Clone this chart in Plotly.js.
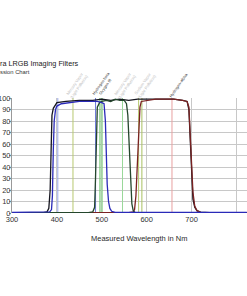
<!DOCTYPE html>
<html>
<head>
<meta charset="utf-8">
<script src="https://cdn.plot.ly/plotly-3.0.1.min.js"></script>
<style>html,body{margin:0;padding:0;background:#fff;overflow:hidden;}#chart{width:247px;height:296px;}</style>
</head>
<body>
<div id="chart"></div>
<script>
// Filter transmission curves (wavelength nm, transmission %)
const lumWl = [300,370,378,382,385,387,389,392,396,400,420,450,480,500,520,540,560,580,600,620,640,660,680,690,694,697,700,703,707,712,720,740,780,823];
const lumT  = [0.3,0.3,1,4,20,60,85,91,94,96,97,98,98,99,98,99,98,99,99,99,99,99,98,97,90,60,30,12,5,2,0.8,0.3,0.3,0.3];

const blueWl = [300,375,384,388,390,392,394,397,400,410,430,450,470,490,500,505,508,510,512,515,518,522,530,560,600,650,700,750,823];
const blueT  = [0.5,0.5,1,3,15,55,80,90,93,95,96,97,97,97,96,95,80,50,25,10,4,1.5,0.5,0.5,0.5,0.5,0.5,0.5,0.5];

const greenWl = [300,470,480,484,486,488,490,495,500,510,520,530,540,550,555,558,561,564,567,570,574,600,823];
const greenT  = [0.3,0.3,1,5,30,75,92,96,97,98,97,99,98,98,95,85,55,25,8,2,0.5,0.3,0.3];

const redWl = [300,560,570,573,576,579,582,585,588,600,620,640,660,680,690,694,697,700,703,707,712,720,823];
const redT  = [0.3,0.3,1,3,15,45,75,92,97,98,99,99,99,98,97,92,70,40,18,6,2,0.6,0.3];

// Emission lines (nm)
const lineWl     = [402, 435.8, 486.1, 495.9, 500.7, 546.1, 582, 589.3, 656.3];
const lineColors = ['#9aa8e8','#b8c870','#6a78d8','#5cc05c','#7ad07a','#9ad89a','#b8c870','#a8c060','#e8a0a0'];

// Rotated line labels
const labelText = ['Mercury Vapor<br>(Light Pollution)','Hydrogen-beta<br>Oxygen III','Mercury Vapor<br>(Light Pollution)','Sodium Vapor<br>(Light Pollution)','Hydrogen-alpha'];
const labelWl   = [445, 503, 552, 596, 670];
const labelDark = [false, true, false, false, true];

const xTicks = [300,400,500,600,700,800];
const xTickText = ['300','400','500','600','700',''];

const traces = [];
lineWl.forEach((w,i)=>{
  traces.push({x:[w,w], y:[0,100], mode:'lines', line:{color:lineColors[i], width:1}, hoverinfo:'skip', showlegend:false});
});
traces.push({x:lumWl, y:lumT, mode:'lines', line:{color:'#15151f', width:1.3}, showlegend:false});
traces.push({x:redWl, y:redT, mode:'lines', line:{color:'#7a2222', width:1.3}, showlegend:false});
traces.push({x:greenWl, y:greenT, mode:'lines', line:{color:'#24462c', width:1.3}, showlegend:false});
traces.push({x:blueWl, y:blueT, mode:'lines', line:{color:'#2a2ab8', width:1.3}, showlegend:false});

const ann = [
  {text:'ra LRGB Imaging Filters', xref:'paper', yref:'paper', x:-0.058, y:1.296, xanchor:'left', yanchor:'middle', showarrow:false, font:{size:7.3, color:'#222'}},
  {text:'ssion Chart', xref:'paper', yref:'paper', x:-0.058, y:1.226, xanchor:'left', yanchor:'middle', showarrow:false, font:{size:5.8, color:'#333'}},
  {text:'Measured Wavelength in Nm', xref:'x', yref:'paper', x:583, y:-0.226, xanchor:'center', yanchor:'middle', showarrow:false, font:{size:7.5, color:'#2a2a2a'}}
];
labelText.forEach((t,i)=>{
  ann.push({text:t, xref:'x', yref:'paper', x:labelWl[i], y:1.11, xanchor:'center', yanchor:'middle', textangle:-55, showarrow:false,
    font:{size:4, color: labelDark[i] ? '#333' : '#b8b8b8'}});
});

const layout = {
  width:247, height:296,
  margin:{l:12, r:0, t:98, b:83},
  paper_bgcolor:'#fff', plot_bgcolor:'#fff',
  font:{family:'Liberation Sans, Arial, sans-serif', size:8, color:'#333'},
  xaxis:{range:[300,823.4], tickvals:xTicks, ticktext:xTickText, showgrid:true, gridcolor:'#c8c8c8', gridwidth:1, zeroline:false, showline:false, ticks:'', tickfont:{size:7.5, color:'#333'}},
  yaxis:{range:[0,100], dtick:10, showgrid:true, gridcolor:'#c8c8c8', gridwidth:1, zeroline:false, showline:true, linecolor:'#999', ticks:'outside', ticklen:2, tickcolor:'#999', ticklabelstandoff:-3, tickfont:{size:7.5, color:'#333'}},
  annotations:ann,
  showlegend:false
};
Plotly.newPlot('chart', traces, layout, {displayModeBar:false, staticPlot:true});
</script>
</body>
</html>
